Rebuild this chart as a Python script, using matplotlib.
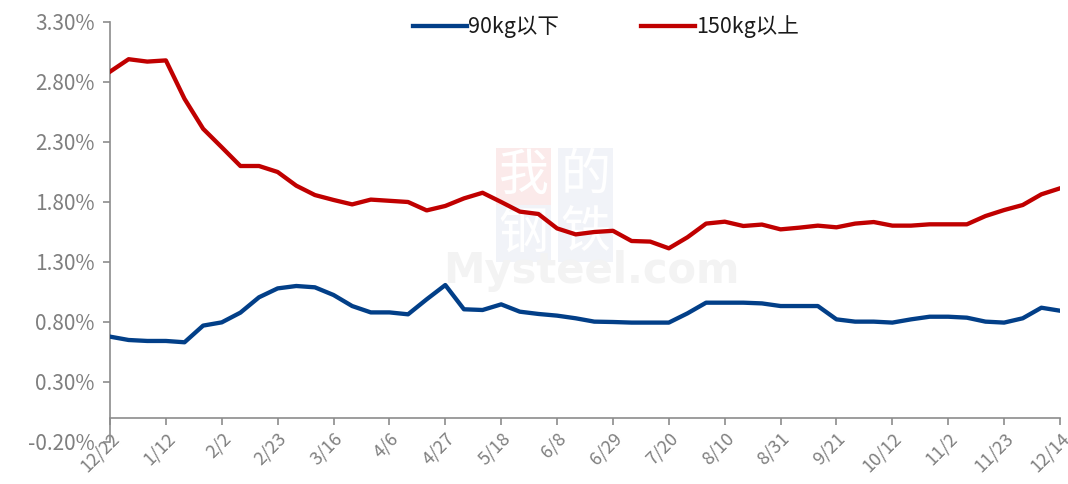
import matplotlib
matplotlib.use("Agg")
import matplotlib.pyplot as plt
import numpy as np
from datetime import date, timedelta

# Weekly dates 12/22 -> 12/14 (52 weeks)
start = date(2022, 12, 22)
dates = [start + timedelta(weeks=i) for i in range(52)]
labels = [f"{d.month}/{d.day}" for d in dates]

below_90kg = [0.678, 0.650, 0.642, 0.642, 0.631, 0.770, 0.797, 0.878, 1.006, 1.080,
              1.100, 1.089, 1.025, 0.933, 0.880, 0.880, 0.864, 0.989, 1.108, 0.906,
              0.900, 0.947, 0.886, 0.867, 0.853, 0.831, 0.803, 0.800, 0.795, 0.795,
              0.795, 0.872, 0.961, 0.961, 0.961, 0.955, 0.933, 0.933, 0.933, 0.822,
              0.803, 0.803, 0.795, 0.822, 0.844, 0.844, 0.836, 0.803, 0.795, 0.831,
              0.919, 0.894]
above_150kg = [2.886, 2.990, 2.970, 2.980, 2.660, 2.410, 2.256, 2.100, 2.100, 2.050,
               1.936, 1.858, 1.817, 1.780, 1.820, 1.810, 1.800, 1.730, 1.767, 1.830,
               1.877, 1.800, 1.720, 1.700, 1.580, 1.530, 1.550, 1.560, 1.475, 1.470,
               1.414, 1.506, 1.620, 1.636, 1.600, 1.612, 1.572, 1.586, 1.603, 1.589,
               1.620, 1.633, 1.603, 1.603, 1.614, 1.614, 1.614, 1.683, 1.733, 1.775,
               1.864, 1.914]
series_names = ["90kg以下", "150kg以上"]
yticks = [-0.2, 0.3, 0.8, 1.3, 1.8, 2.3, 2.8, 3.3]

plt.rcParams['font.family'] = ['Noto Sans CJK SC', 'DejaVu Sans']

fig = plt.figure(figsize=(10.68, 4.84), dpi=100)
ax = fig.add_axes([110/1068, 1-442/484, 950/1068, 420/484])
ax.patch.set_alpha(0)

x = np.arange(len(labels))

# watermark (behind the lines)
tf = fig.transFigure
wm = [("我", 0.4905, 0.636, "#fbeaea"), ("的", 0.548, 0.636, "#f1f3f8"),
      ("钢", 0.4905, 0.518, "#f1f3f8"), ("铁", 0.548, 0.518, "#f1f3f8")]
for ch, fx, fy, bg in wm:
    ax.text(fx, fy, ch, transform=tf, fontsize=36, color="#ffffff", ha="center", va="center",
            zorder=0.5, bbox=dict(boxstyle="square,pad=0.05", fc=bg, ec="none"))
ax.text(0.554, 0.44, "Mysteel.com", transform=tf, fontsize=30, color="#f3f3f3",
        ha="center", va="center", family="DejaVu Sans", fontweight="bold", zorder=0.6)

ax.plot(x, below_90kg, color="#023F88", lw=3.1, label=series_names[0], zorder=3)
ax.plot(x, above_150kg, color="#C00000", lw=3.1, label=series_names[1], zorder=3)

ax.set_xlim(0, len(labels) - 1)
ax.set_ylim(-0.2, 3.3)
ax.set_yticks(yticks)
ax.set_yticklabels([f"{v:.2f}%" for v in yticks])
ax.set_xticks(x[::3])
ax.set_xticklabels(labels[::3])

for s in ["top", "right"]:
    ax.spines[s].set_visible(False)
ax.spines["bottom"].set_position(("data", 0))
for s in ["left", "bottom"]:
    ax.spines[s].set_color("#8c8c8c")
    ax.spines[s].set_linewidth(1.2)
ax.tick_params(axis="y", colors="#8c8c8c", labelcolor="#7f7f7f", labelsize=15, length=5, width=1.2, pad=6)
ax.tick_params(axis="x", colors="#8c8c8c", labelcolor="#7f7f7f", labelsize=13, length=5, width=1.2,
               pad=3, labelrotation=45)
plt.setp(ax.get_xticklabels(), ha="right", va="top", rotation_mode="anchor")

leg = ax.legend(loc="upper center", bbox_to_anchor=(0.522, 1.062), ncol=2, frameon=False,
                fontsize=15.5, handlelength=2.5, columnspacing=3.8, handletextpad=0.05)
for t in leg.get_texts():
    t.set_color("#1a1a1a")

fig.savefig("out.png", dpi=100)
